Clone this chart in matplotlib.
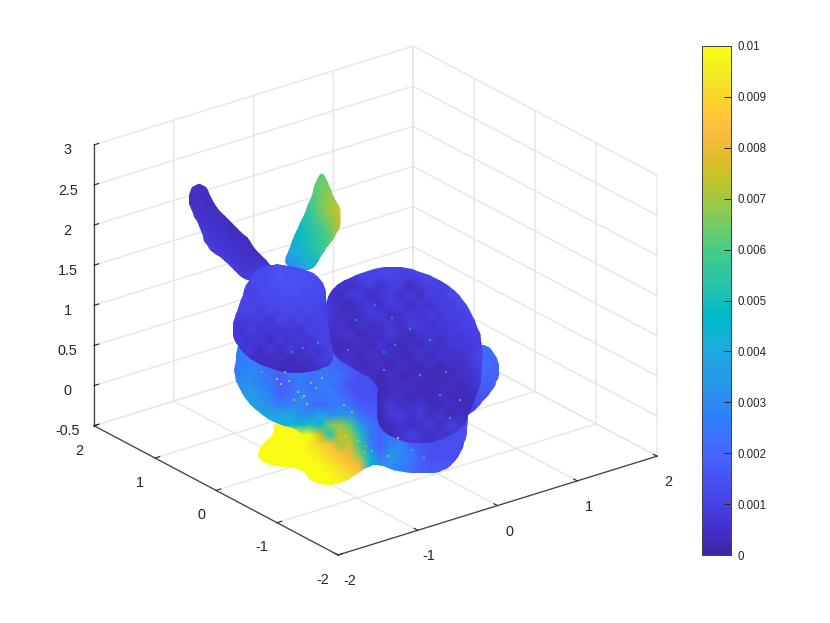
import numpy as np
import matplotlib
matplotlib.use('Agg')
import matplotlib.pyplot as plt
from matplotlib.colors import ListedColormap, Normalize
from matplotlib.patches import Polygon
from matplotlib.cm import ScalarMappable
from mpl_toolkits.mplot3d import proj3d

plt.rcParams['font.family'] = ['Liberation Sans', 'DejaVu Sans']

parula = [[0.2422,0.1504,0.6603],[0.2504,0.1650,0.7076],[0.2578,0.1818,0.7511],[0.2647,0.1978,0.7952],
[0.2706,0.2147,0.8364],[0.2751,0.2342,0.8710],[0.2783,0.2559,0.8991],[0.2803,0.2782,0.9221],
[0.2813,0.3006,0.9414],[0.2810,0.3228,0.9579],[0.2795,0.3447,0.9717],[0.2760,0.3667,0.9829],
[0.2699,0.3892,0.9906],[0.2602,0.4123,0.9952],[0.2440,0.4358,0.9988],[0.2206,0.4603,0.9973],
[0.1963,0.4847,0.9892],[0.1834,0.5074,0.9798],[0.1786,0.5289,0.9682],[0.1764,0.5499,0.9520],
[0.1687,0.5703,0.9359],[0.1540,0.5902,0.9218],[0.1460,0.6091,0.9079],[0.1380,0.6276,0.8973],
[0.1248,0.6459,0.8883],[0.1113,0.6635,0.8763],[0.0952,0.6798,0.8598],[0.0689,0.6948,0.8394],
[0.0297,0.7082,0.8163],[0.0036,0.7203,0.7917],[0.0067,0.7312,0.7660],[0.0433,0.7411,0.7394],
[0.0964,0.7500,0.7120],[0.1408,0.7584,0.6842],[0.1717,0.7670,0.6554],[0.1938,0.7758,0.6251],
[0.2161,0.7843,0.5923],[0.2470,0.7918,0.5567],[0.2906,0.7973,0.5188],[0.3406,0.8008,0.4789],
[0.3909,0.8029,0.4354],[0.4456,0.8024,0.3909],[0.5044,0.7993,0.3480],[0.5616,0.7942,0.3045],
[0.6174,0.7876,0.2612],[0.6720,0.7793,0.2227],[0.7242,0.7698,0.1910],[0.7738,0.7598,0.1646],
[0.8203,0.7498,0.1535],[0.8634,0.7406,0.1596],[0.9035,0.7330,0.1774],[0.9393,0.7288,0.2100],
[0.9728,0.7298,0.2394],[0.9956,0.7434,0.2371],[0.9970,0.7659,0.2199],[0.9952,0.7893,0.2028],
[0.9892,0.8136,0.1885],[0.9786,0.8386,0.1766],[0.9676,0.8639,0.1643],[0.9610,0.8890,0.1537],
[0.9597,0.9135,0.1423],[0.9628,0.9373,0.1265],[0.9691,0.9606,0.1064],[0.9769,0.9839,0.0805]]

x_ticks = [-2, -1, 0, 1, 2]
y_ticks = [-2, -1, 0, 1, 2]
z_ticks = [-0.5, 0, 0.5, 1, 1.5, 2, 2.5, 3]
z_labels = ['-0.5', '0', '0.5', '1', '1.5', '2', '2.5', '3']
xy_labels = ['-2', '-1', '0', '1', '2']
cbar_ticks = [0, 0.001, 0.002, 0.003, 0.004, 0.005, 0.006, 0.007, 0.008, 0.009, 0.01]
cbar_labels = ['0', '0.001', '0.002', '0.003', '0.004', '0.005', '0.006', '0.007', '0.008', '0.009', '0.01']

# Bunny silhouettes (pixel positions on the rendered view)
far_ear_outline = [(322,172),(327,180),(333,195),(341,210),(341,225),(333,240),(322,253),(313,272),(283,267),(288,250),(298,227),(310,200),(317,178)]
near_ear_outline = [(199,183),(207,187),(213,203),(230,222),(245,235),(258,252),(272,266),(280,285),(247,283),(227,263),(207,248),(200,228),(191,210),(188,200),(191,187)]
tail_outline = [(480,343),(490,347),(498,360),(500,373),(494,388),(484,400),(472,413),(462,417),(470,370)]
back_foot_outline = [(273,421),(275,433),(260,446),(257,458),(270,466),(300,468),(310,478),(325,470),(325,425)]
chest_outline = [(240,335),(237,352),(233,372),(242,396),(263,416),(277,424),(296,428),(306,440),(304,462),(306,478),(323,486),(345,482),(358,473),(375,463),(395,471),(420,474),(442,472),(457,460),(466,440),(468,420),(470,350),(340,340)]
body_outline = [(327,290),(353,276),(377,268),(398,266),(420,271),(444,282),(461,296),(474,317),(483,343),(482,373),(478,393),(468,415),(466,423),(454,434),(430,444),(403,442),(377,429),(377,400),(378,383),(353,368),(333,357),(325,330)]
head_outline = [(268,265),(283,264),(313,272),(323,282),(326,292),(328,327),(334,357),(331,364),(317,371),(293,374),(270,369),(247,358),(234,340),(232,327),(234,320),(240,303),(247,282),(258,268)]

# Error values, in units of 1e-4, on coarse pixel grids
far_ear_xs = [280, 295, 310, 325, 340]
far_ear_ys = [170, 190, 210, 230, 250, 270]
far_ear_vals = [[62,62,62,60,60],[60,55,60,66,68],[52,52,55,68,76],[46,48,52,60,72],[36,42,50,58,62],[26,30,40,45,50]]

near_ear_xs = [185, 205, 225, 245, 265, 285]
near_ear_ys = [180, 200, 220, 240, 260, 280]
near_ear_vals = [[6,6,6,6,6,6],[6,4,4,4,4,4],[8,6,4,3,3,3],[10,8,6,4,3,4],[11,11,9,5,6,7],[11,11,11,9,8,9]]

tail_xs = [460, 480, 500]
tail_ys = [340, 365, 390, 415]
tail_vals = [[20,22,22],[18,22,20],[10,16,18],[8,10,12]]

chest_xs = [230,240,250,260,270,280,290,300,310,320,330,340,350,360,370,380,390,400,410,420,430,440,450,460,470]
chest_ys = [335,345,355,365,375,385,395,405,415,425,435,445,455,465,475,485]
chest_vals = [
[24,25,25,24,25,25,25,25,25,25,22,20,18,16,14,12,10,10,10,10,10,10,10,10,10],
[24,25,25,24,25,25,25,25,25,25,22,20,18,16,14,12,10,10,10,10,10,10,10,10,10],
[25,25,27,25,25,25,25,25,25,25,22,20,18,15,12,10,10,10,10,10,10,10,10,10,10],
[24,26,28,25,22,24,26,22,25,25,22,18,16,15,14,12,10,10,10,10,10,10,10,10,10],
[24,28,30,27,22,18,25,28,22,26,24,22,18,14,14,12,10,10,10,10,10,10,10,10,10],
[28,30,32,28,25,18,20,27,23,26,25,20,15,13,15,12,12,12,12,12,12,12,12,12,12],
[30,32,36,32,28,20,22,28,26,25,24,22,18,15,14,14,14,14,14,14,14,14,14,14,14],
[34,36,40,34,30,26,28,30,24,20,24,28,22,17,16,15,14,14,14,14,14,14,14,14,14],
[38,40,44,42,38,36,40,32,30,40,30,34,34,22,20,18,16,16,16,16,16,16,16,16,16],
[42,42,42,42,42,42,42,45,50,45,65,70,60,35,25,20,22,20,15,14,14,14,14,14,14],
[100,100,100,100,100,100,100,100,100,75,50,75,70,50,25,20,25,18,16,14,14,14,14,14,14],
[100,100,100,100,100,100,100,100,95,90,85,70,75,55,25,18,28,30,20,16,14,14,14,14,14],
[100,100,100,100,100,100,100,100,100,95,88,85,80,65,45,22,35,30,28,18,14,14,14,14,14],
[100,100,100,100,100,100,100,100,100,100,95,90,85,80,45,30,32,28,24,18,16,16,16,16,16],
[100,100,100,100,100,100,100,100,100,100,100,95,92,85,50,30,30,26,22,18,16,16,16,16,16],
[100,100,100,100,100,100,100,100,100,100,100,100,95,90,50,30,30,26,22,18,16,16,16,16,16]]

body_xs = [320,330,340,350,360,370,380,390,400,410,420,430,440,450,460,470,480,490]
body_ys = [265,275,285,295,305,315,325,335,345,355,365,375,385,395,405,415,425,435,445]
body_vals = [
[10,10,10,10,10,10,10,10,10,10,10,10,10,10,10,10,10,10],
[9,8,8,9,10,10,11,11,10,10,11,11,10,10,10,10,10,10],
[7,6,7,4,7,10,5,9,10,4,8,10,10,10,10,10,10,10],
[7,6,4,8,9,4,7,10,5,9,4,10,9,11,11,10,10,10],
[8,7,6,3,7,9,4,9,8,4,9,6,10,9,11,11,10,10],
[9,8,4,6,4,8,9,4,6,9,6,9,7,10,9,11,10,10],
[8,6,7,3,7,4,6,9,4,8,9,6,9,7,10,10,10,10],
[7,4,6,7,3,6,4,8,6,3,7,7,6,9,7,10,10,10],
[7,6,3,4,6,3,7,4,3,6,4,7,4,7,9,7,10,10],
[8,7,4,6,3,7,4,6,4,3,7,4,7,6,6,9,11,11],
[9,8,7,6,4,3,6,3,6,4,3,6,3,6,4,7,10,11],
[9,8,7,6,4,5,3,6,3,3,6,3,4,3,6,6,9,11],
[10,8,7,6,7,5,3,4,4,6,3,4,3,6,3,6,9,11],
[10,9,8,7,6,5,3,4,6,3,4,3,6,3,4,3,6,10],
[10,9,8,7,6,5,3,8,4,6,7,4,3,6,3,4,3,10],
[10,9,8,7,6,5,3,7,10,6,9,4,7,3,6,3,7,10],
[10,9,8,7,6,5,3,4,7,4,6,9,4,10,7,6,10,10],
[10,9,8,7,6,5,4,3,6,10,7,4,7,6,10,10,10,10],
[10,9,8,7,6,5,5,5,6,6,6,6,6,6,6,6,6,6]]

head_xs = [230,240,250,260,270,280,290,300,310,320,330,340]
head_ys = [260,270,280,290,300,310,320,330,340,350,360,370,380]
head_vals = [
[11,11,11,11,11,11,11,11,11,11,11,11],
[11,11,11,11,14,15,15,14,13,12,11,11],
[11,11,11,13,14,16,15,15,14,12,11,11],
[11,11,10,12,14,13,15,14,13,13,11,11],
[11,11,10,11,12,14,12,13,12,11,11,11],
[11,10,11,8,12,10,13,10,12,10,9,11],
[10,9,7,10,6,11,8,12,9,11,9,10],
[9,6,10,5,9,6,9,6,11,8,11,9],
[6,8,5,9,4,9,5,9,6,11,9,9],
[6,5,8,3,8,4,8,4,9,6,11,9],
[5,6,3,6,4,6,3,6,4,8,8,8],
[4,4,4,3,4,3,4,3,4,4,6,6],
[4,4,4,4,4,4,4,4,4,4,4,4]]

back_foot_value = 100

# Isolated outlier points: position and value (1e-4)
speck_x = [277,281,289,298,304,311,316,322,294,302,307,262,285,331,344,352,345,358,366,372,388,398,412,424,384,395,410,430,446,356,375,392,420,440,384,348,292,303,318,450,460,365]
speck_y = [379,384,381,392,396,383,388,378,400,398,404,372,372,392,405,412,437,441,446,451,456,438,450,458,352,345,329,340,372,320,305,318,375,395,370,350,352,348,343,418,400,452]
speck_v = [80,85,75,82,88,70,65,72,78,60,84,60,70,55,80,75,88,80,70,65,75,85,55,60,45,40,38,45,40,42,35,45,40,50,50,35,40,45,38,40,55,70]

fig = plt.figure(figsize=(8.3, 6.23), dpi=100)
ax = fig.add_axes([0.1, 0.1, 400 / 830, 400 / 623], projection='3d', proj_type='ortho')
ax.view_init(elev=23.9, azim=-127.4)
ax.set_box_aspect((1, 1, 0.765))
ax.set_xlim(-2, 2, view_margin=0)
ax.set_ylim(-2, 2, view_margin=0)
ax.set_zlim(-0.5, 3, view_margin=0)
ax.set_xticks(x_ticks)
ax.set_xticklabels(xy_labels)
ax.set_yticks(y_ticks)
ax.set_yticklabels(xy_labels)
ax.set_zticks(z_ticks)
ax.set_zticklabels(z_labels)
ax.patch.set_alpha(0)
GRID = '#e6e6e6'
DARK = '#404040'
for a in (ax.xaxis, ax.yaxis, ax.zaxis):
    a.set_pane_color((1, 1, 1, 0))
    a.pane.set_edgecolor(GRID)
    a.line.set_color(DARK)
    a.line.set_linewidth(0.9)
    a._axinfo['grid'].update(color=GRID, linewidth=1.0)
    a._axinfo['tick'].update(inward_factor=0.0, outward_factor=0.18, linewidth={True: 0.8, False: 0.5})
ax.tick_params(colors='#262626', labelsize=10.4, pad=3)

# fit the cube to the reference's corners
def corner(x, y, z):
    xs, ys, _ = proj3d.proj_transform(x, y, z, ax.get_proj())
    return ax.transData.transform((xs, ys))

fig.canvas.draw()
size = 400.0
L, R = corner(-2, 2, -0.5), corner(2, -2, -0.5)
size = size * (657 - 94) / (R[0] - L[0])
ax.set_position([0.1, 0.1, size / 830, size / 623])
fig.canvas.draw()
F = corner(-2, -2, -0.5)
ax.set_position([0.1 + (338 - F[0]) / 830, 0.1 + ((623 - 555) - F[1]) / 623, size / 830, size / 623])

# bunny layer
cmap = ListedColormap(parula)
norm = Normalize(0, 100)
bax = fig.add_axes([0, 0, 1, 1])
bax.set_xlim(0, 830)
bax.set_ylim(623, 0)
bax.axis('off')

def rounded(outline, passes=2):
    pts = np.array(outline, float)
    for _ in range(passes):
        nxt = np.roll(pts, -1, axis=0)
        pts = np.column_stack([0.75 * pts + 0.25 * nxt, 0.25 * pts + 0.75 * nxt]).reshape(-1, 2)
    return pts

def paint(xs, ys, vals, outline, z):
    m = bax.pcolormesh(xs, ys, np.array(vals, float), cmap=cmap, norm=norm, shading='gouraud', zorder=z)
    poly = Polygon(rounded(outline), closed=True, transform=bax.transData, facecolor='none', edgecolor='none')
    bax.add_patch(poly)
    m.set_clip_path(poly)

paint(far_ear_xs, far_ear_ys, far_ear_vals, far_ear_outline, 1)
paint(near_ear_xs, near_ear_ys, near_ear_vals, near_ear_outline, 2)
paint(tail_xs, tail_ys, tail_vals, tail_outline, 3)
bax.add_patch(Polygon(rounded(back_foot_outline), closed=True, facecolor=cmap(norm(back_foot_value)), edgecolor='none', zorder=4))
paint(chest_xs, chest_ys, chest_vals, chest_outline, 5)
paint(body_xs, body_ys, body_vals, body_outline, 6)
paint(head_xs, head_ys, head_vals, head_outline, 7)
bax.scatter(speck_x, speck_y, c=speck_v, cmap=cmap, norm=norm, s=2, linewidths=0, zorder=8)

# colour bar
cax = fig.add_axes([702 / 830, 1 - 555 / 623, 29 / 830, 509 / 623])
cb = fig.colorbar(ScalarMappable(norm=Normalize(0, 0.01), cmap=cmap), cax=cax)
cb.set_ticks(cbar_ticks)
cb.set_ticklabels(cbar_labels)
cb.ax.tick_params(direction='in', length=5, width=0.7, colors='#262626', labelsize=8.3, pad=5)
cb.outline.set_edgecolor(DARK)
cb.outline.set_linewidth(0.7)

fig.savefig('out.png', dpi=100)
